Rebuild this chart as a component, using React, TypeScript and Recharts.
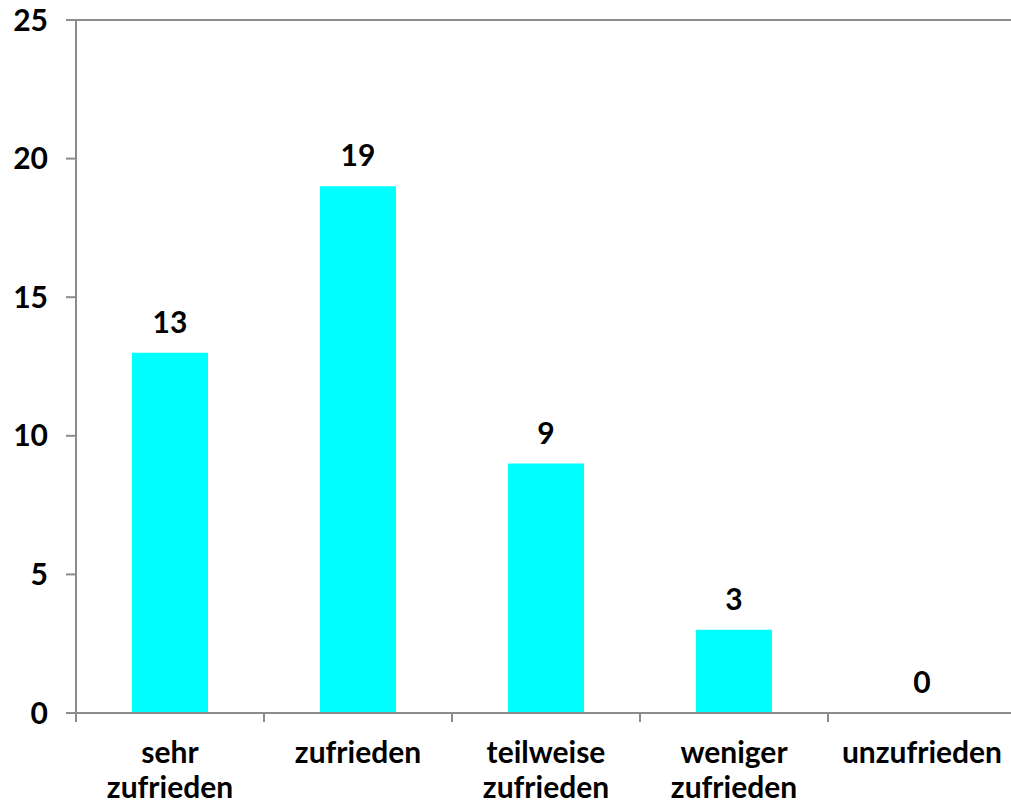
import { ComposedChart, Bar, Line, XAxis, YAxis, LabelList, ReferenceLine } from "recharts";

const categories = ["sehr zufrieden", "zufrieden", "teilweise zufrieden", "weniger zufrieden", "unzufrieden"];
const counts = [13, 19, 9, 3, 0];
const yTicks = [0, 5, 10, 15, 20, 25];

const data = categories.map((name, i) => ({ name, value: counts[i] }));

const FONT = "Lato, 'Open Sans', sans-serif";
const AXIS = "#8c8c8c";
const STEP = 188;
const FS = 30;

function CategoryTick(props: any) {
  const { x, y, payload } = props;
  const lines = String(payload.value).split(" ");
  return (
    <g>
      <line x1={x - STEP / 2} y1={y} x2={x - STEP / 2} y2={y + 9} stroke={AXIS} strokeWidth={2} />
      {lines.map((ln, i) => (
        <text key={i} x={x} y={y + 50 + i * 35} textAnchor="middle"
          fontFamily={FONT} fontWeight={700} fontSize={FS} fill="#000">
          {ln}
        </text>
      ))}
    </g>
  );
}

export default function App() {
  return (
    <div style={{ position: "absolute", left: 0, top: 0, width: 1011, height: 806, overflow: "hidden", background: "#fff" }}>
      <ComposedChart width={1020} height={806} data={data} margin={{ top: 20, right: 4, bottom: 0, left: 0 }}>
        <ReferenceLine y={25} stroke={AXIS} strokeWidth={2} />
        <XAxis dataKey="name" height={93} tickLine={false} tickSize={0} tickMargin={0}
          axisLine={{ stroke: AXIS, strokeWidth: 2 }} interval={0} tick={<CategoryTick />} />
        <YAxis width={76} domain={[0, 25]} ticks={yTicks} interval={0}
          tickSize={10} tickMargin={18}
          axisLine={{ stroke: AXIS, strokeWidth: 2 }} tickLine={{ stroke: AXIS, strokeWidth: 2 }}
          tick={{ fontFamily: FONT, fontWeight: 700, fontSize: FS, fill: "#000" }} />
        <Bar dataKey="value" fill="#00ffff" barSize={76} isAnimationActive={false} />
        <Line dataKey="value" stroke="none" dot={false} activeDot={false} isAnimationActive={false}>
          <LabelList dataKey="value" position="top" offset={20}
            style={{ fontFamily: FONT, fontWeight: 700, fontSize: FS, fill: "#000" }} />
        </Line>
      </ComposedChart>
    </div>
  );
}
